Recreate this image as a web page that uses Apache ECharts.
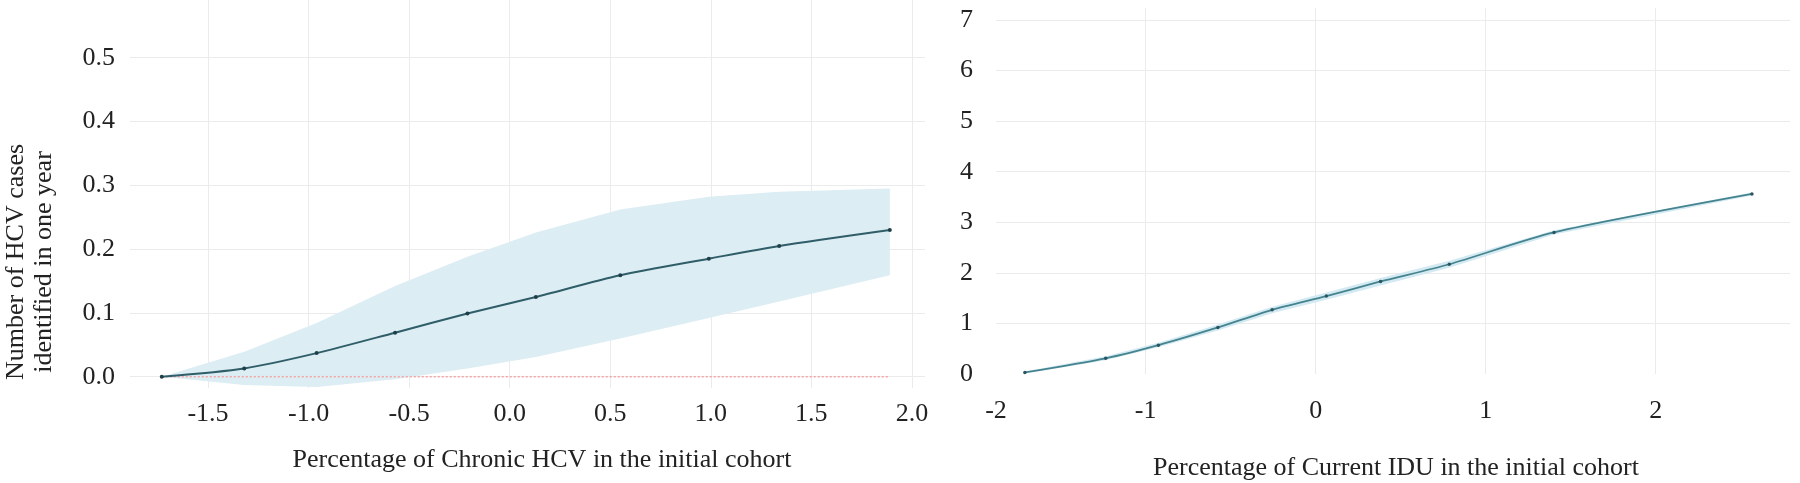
<!DOCTYPE html>
<html>
<head>
<meta charset="utf-8">
<script src="https://cdn.jsdelivr.net/npm/echarts@6/dist/echarts.min.js"></script>
<style>
  html, body { margin: 0; padding: 0; background: #fff; }
  #chart { width: 1800px; height: 483px; }
</style>
</head>
<body>
<div id="chart"></div>
<script>
// left panel: chronic HCV
var chronicX = [-1.73, -1.32, -0.96, -0.57, -0.21, 0.13, 0.55, 0.99, 1.34, 1.89];
var chronicMean = [0.0, 0.013, 0.037, 0.069, 0.099, 0.125, 0.159, 0.185, 0.205, 0.230];
var chronicHigh = [0.0, 0.039, 0.084, 0.142, 0.188, 0.226, 0.262, 0.282, 0.290, 0.295];
var chronicLow = [0.0, -0.013, -0.016, -0.004, 0.013, 0.031, 0.060, 0.092, 0.118, 0.159];

// right panel: current IDU
var iduX = [-1.71, -1.235, -0.925, -0.575, -0.256, 0.063, 0.382, 0.786, 1.402, 2.566];
var iduMean = [0.03, 0.31, 0.57, 0.92, 1.27, 1.54, 1.83, 2.17, 2.80, 3.56];
var iduHigh = [0.05, 0.35, 0.62, 0.98, 1.33, 1.61, 1.90, 2.24, 2.84, 3.59];
var iduLow = [0.01, 0.27, 0.53, 0.86, 1.20, 1.47, 1.75, 2.10, 2.76, 3.53];

var FONT = 'Liberation Serif';
var TXT = '#222';
var GRID = '#ebebeb';

function pairs(xs, ys) {
  return xs.map(function (x, i) { return [x, ys[i]]; });
}

// polygon between upper and lower bounds, drawn once
function bandItem(xs, lo, hi, color) {
  return function (params, api) {
    if (params.dataIndex !== 0) return null;
    var pts = [];
    for (var i = 0; i < xs.length; i++) pts.push(api.coord([xs[i], hi[i]]));
    for (var j = xs.length - 1; j >= 0; j--) pts.push(api.coord([xs[j], lo[j]]));
    return { type: 'polygon', shape: { points: pts }, style: { fill: color } };
  };
}

function valueAxis(idx, opts) {
  return Object.assign({
    type: 'value',
    gridIndex: idx,
    axisLine: { show: false },
    axisTick: { show: false },
    splitLine: { show: true, showMinLine: false, showMaxLine: false, lineStyle: { color: GRID, width: 1 } },
    axisLabel: { fontFamily: FONT, fontSize: 26, color: TXT, showMaxLabel: false }
  }, opts);
}

var chart = echarts.init(document.getElementById('chart'), null, { renderer: 'canvas' });

var option = {
  animation: false,
  backgroundColor: '#fff',
  grid: [
    { left: 130, top: 0, width: 795, height: 388 },
    { left: 996, top: 8, width: 794, height: 366 }
  ],
  xAxis: [
    valueAxis(0, {
      min: -1.888, max: 2.065, splitNumber: 8,
      axisLabel: { fontFamily: FONT, fontSize: 26, color: TXT, margin: 13,
        showMinLabel: false, showMaxLabel: false,
        formatter: function (v) { return v.toFixed(1); } }
    }),
    valueAxis(1, {
      min: -1.88, max: 2.79, splitNumber: 5,
      axisLabel: { fontFamily: FONT, fontSize: 26, color: TXT, margin: 24,
        showMinLabel: true, showMaxLabel: false,
        formatter: function (v) { return String(Math.round(v)); } }
    })
  ],
  yAxis: [
    valueAxis(0, {
      min: -0.0177, max: 0.5904, splitNumber: 6,
      axisLabel: { fontFamily: FONT, fontSize: 26, color: TXT, margin: 15,
        showMinLabel: false, showMaxLabel: false,
        formatter: function (v) { return v.toFixed(1); } }
    }),
    valueAxis(1, {
      min: 0, max: 7.237, splitNumber: 7,
      axisLabel: { fontFamily: FONT, fontSize: 26, color: TXT, margin: 23,
        showMinLabel: true, showMaxLabel: false }
    })
  ],
  series: [
    {
      type: 'custom', xAxisIndex: 0, yAxisIndex: 0, silent: true,
      data: chronicX.map(function (x, i) { return [x, chronicLow[i], chronicHigh[i]]; }),
      encode: { x: 0, y: [1, 2] },
      renderItem: bandItem(chronicX, chronicLow, chronicHigh, '#dcedf4'),
      z: 1
    },
    {
      // reference line at zero
      type: 'line', xAxisIndex: 0, yAxisIndex: 0, silent: true,
      data: [[chronicX[0], 0], [chronicX[chronicX.length - 1], 0]],
      symbol: 'none',
      lineStyle: { color: '#f3a3a3', width: 1.5, type: [2, 2] },
      z: 2
    },
    {
      type: 'line', xAxisIndex: 0, yAxisIndex: 0,
      data: pairs(chronicX, chronicMean),
      smooth: 0.25,
      symbol: 'circle', symbolSize: 4,
      itemStyle: { color: '#1f3f48' },
      lineStyle: { color: '#2f5d68', width: 2 },
      z: 3
    },
    {
      type: 'custom', xAxisIndex: 1, yAxisIndex: 1, silent: true,
      data: iduX.map(function (x, i) { return [x, iduLow[i], iduHigh[i]]; }),
      encode: { x: 0, y: [1, 2] },
      renderItem: bandItem(iduX, iduLow, iduHigh, '#d3eaf2'),
      z: 1
    },
    {
      type: 'line', xAxisIndex: 1, yAxisIndex: 1,
      data: pairs(iduX, iduMean),
      smooth: 0.25,
      symbol: 'circle', symbolSize: 3.5,
      itemStyle: { color: '#2a5560' },
      lineStyle: { color: '#45838f', width: 1.8 },
      z: 3
    }
  ],
  graphic: [
    {
      type: 'text', x: 30, y: 262, rotation: Math.PI / 2,
      style: {
        text: 'Number of HCV cases\nidentified in one year',
        fontFamily: FONT, fontSize: 26, lineHeight: 28, fill: TXT,
        align: 'center', verticalAlign: 'middle'
      }
    },
    {
      type: 'text', x: 542, y: 460,
      style: {
        text: 'Percentage of Chronic HCV in the initial cohort',
        fontFamily: FONT, fontSize: 26, fill: TXT,
        align: 'center', verticalAlign: 'middle'
      }
    },
    {
      type: 'text', x: 1396, y: 468,
      style: {
        text: 'Percentage of Current IDU in the initial cohort',
        fontFamily: FONT, fontSize: 26, fill: TXT,
        align: 'center', verticalAlign: 'middle'
      }
    }
  ]
};

chart.setOption(option);
</script>
</body>
</html>
